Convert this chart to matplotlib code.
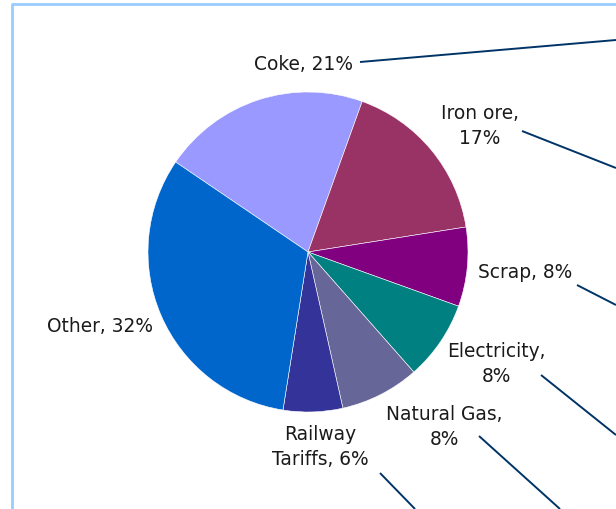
import matplotlib
matplotlib.use("Agg")
import matplotlib.pyplot as plt

# Cost structure of steel production
categories = ["Coke", "Iron ore", "Scrap", "Electricity", "Natural Gas", "Railway Tariffs", "Other"]
shares = [21, 17, 8, 8, 8, 6, 32]
label_texts = ["Coke, 21%", "Iron ore,\n17%", "Scrap, 8%", "Electricity,\n8%",
               "Natural Gas,\n8%", "Railway\nTariffs, 6%", "Other, 32%"]
colors = ["#9999FF", "#993366", "#800080", "#008080", "#666699", "#333399", "#0066CC"]

W, H = 616, 509
fig = plt.figure(figsize=(W / 100, H / 100), dpi=100)
ax = fig.add_axes([0, 0, 1, 1])

cx, cy, r = 308, H - 252, 160
ax.pie(shares, colors=colors, startangle=145.8, counterclock=False,
       center=(cx, cy), radius=r, frame=False,
       wedgeprops=dict(edgecolor="white", linewidth=0.4))

ax.set_xlim(0, W)
ax.set_ylim(0, H)
ax.set_aspect("equal")
ax.axis("off")

# label positions (pixel coords from top-left)
label_pos = [(304, 64), (480, 126), (525, 272), (496, 364),
             (444, 427), (320, 447), (100, 326)]
for txt, (x, y) in zip(label_texts, label_pos):
    ax.text(x, H - y, txt, ha="center", va="center", fontsize=13.4,
            color="#1a1a1a", linespacing=1.38, family="DejaVu Sans")

# leader lines running off to the right
leaders = [((360, 62), (616, 40)), ((522, 131), (616, 168)),
           ((577, 285), (616, 305)), ((541, 375), (616, 435)),
           ((479, 436), (560, 509)), ((380, 473), (415, 509))]
for (x0, y0), (x1, y1) in leaders:
    ax.plot([x0, x1], [H - y0, H - y1], color="#003366", lw=1.4,
            solid_capstyle="butt", clip_on=False)

# light blue border (left and top)
ax.plot([12, 12], [0, H - 4], color="#99CCFF", lw=2.0, solid_capstyle="butt")
ax.plot([11, W], [H - 4, H - 4], color="#99CCFF", lw=2.0, solid_capstyle="butt")

fig.savefig("out.png", dpi=100)
